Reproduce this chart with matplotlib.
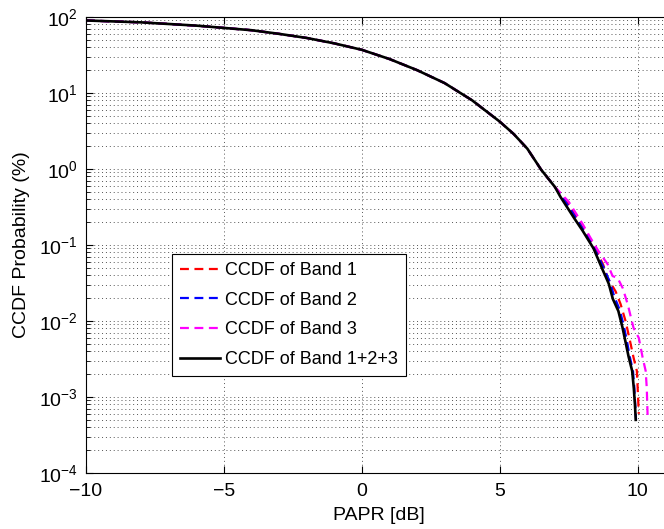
import matplotlib
matplotlib.use('Agg')
import matplotlib.pyplot as plt
from matplotlib.ticker import LogLocator, NullFormatter

plt.rcParams['font.family'] = ['Liberation Sans', 'DejaVu Sans']
plt.rcParams['font.size'] = 14
plt.rcParams['mathtext.fontset'] = 'custom'
plt.rcParams['mathtext.rm'] = 'Liberation Sans'

# PAPR [dB] / CCDF [%]
papr_body = [-10, -8, -6, -4, -3, -2, -1, 0, 1, 2, 3, 4, 5, 5.5, 6, 6.5, 7]
ccdf_body = [90, 85, 77, 67, 60, 53, 45, 37, 28, 20, 13.5, 8.0, 4.2, 2.9, 1.85, 0.98, 0.58]

papr_b123 = [7.2, 7.7, 8.0, 8.4, 8.7, 8.95, 9.1, 9.3, 9.45, 9.55, 9.67, 9.8, 9.86, 9.9, 9.93]
ccdf_b123 = [0.43, 0.225, 0.155, 0.09, 0.05, 0.031, 0.0195, 0.0135, 0.0082, 0.0055,
             0.0034, 0.0022, 0.0013, 0.0008, 0.0005]

papr_b2 = [7.5, 8.0, 8.4, 8.75, 9.0, 9.15, 9.35, 9.5, 9.6, 9.72, 9.83, 9.88, 9.91, 9.94]
ccdf_b2 = [0.32, 0.165, 0.095, 0.052, 0.032, 0.021, 0.014, 0.0085, 0.0057, 0.0033,
           0.0022, 0.0013, 0.0008, 0.0005]

papr_b1 = [7.5, 8.0, 8.4, 8.75, 8.91, 9.2, 9.38, 9.56, 9.72, 9.85, 9.97, 10.0, 10.04]
ccdf_b1 = [0.34, 0.17, 0.1, 0.055, 0.037, 0.0245, 0.0167, 0.010, 0.0055, 0.0033,
           0.0022, 0.0013, 0.0006]

papr_b3 = [7.5, 8.0, 8.29, 8.58, 8.91, 9.09, 9.27, 9.46, 9.64, 9.85, 10.04, 10.18,
           10.29, 10.33, 10.36]
ccdf_b3 = [0.37, 0.19, 0.124, 0.083, 0.056, 0.039, 0.037, 0.027, 0.0165, 0.0081,
           0.006, 0.0033, 0.0022, 0.0013, 0.00056]

fig = plt.figure(figsize=(6.64, 5.29), dpi=100)
ax = fig.add_axes([86 / 664, 1 - 473 / 529, 0.8807, (473 - 17) / 529])

dash = (0, (4, 2.5))
ax.plot(papr_body + papr_b1, ccdf_body + ccdf_b1, color='red', lw=1.6, ls=dash,
        label='CCDF of Band 1')
ax.plot(papr_body + papr_b2, ccdf_body + ccdf_b2, color='blue', lw=1.6, ls=dash,
        label='CCDF of Band 2')
ax.plot(papr_body + papr_b3, ccdf_body + ccdf_b3, color='magenta', lw=1.6, ls=dash,
        label='CCDF of Band 3')
ax.plot(papr_body + papr_b123, ccdf_body + ccdf_b123, color='black', lw=1.9,
        label='CCDF of Band 1+2+3')

ax.set_yscale('log')
ax.set_xlim(-10, 11.2)
ax.set_ylim(1e-4, 1e2)
ax.set_xticks([-10, -5, 0, 5, 10])
ax.set_xticklabels(['\u221210', '\u22125', '0', '5', '10'])
ax.yaxis.set_major_locator(LogLocator(base=10, numticks=10))
ax.yaxis.set_minor_locator(LogLocator(base=10, subs=range(2, 10), numticks=20))
ax.yaxis.set_minor_formatter(NullFormatter())

ax.tick_params(which='both', direction='in', top=True, right=True, labelsize=14)
ax.tick_params(which='major', length=5)
ax.tick_params(which='minor', length=3)
ax.tick_params(axis='x', pad=7)
ax.tick_params(axis='y', pad=6)

ax.grid(True, which='major', axis='both', ls=(0, (1, 3)), color='#555555', lw=0.7)
ax.grid(True, which='minor', axis='y', ls=(0, (1, 3)), color='#555555', lw=0.7)

for s in ax.spines.values():
    s.set_linewidth(0.8)

ax.set_xlabel('PAPR [dB]', fontsize=14, labelpad=5)
ax.set_ylabel('CCDF Probability (%)', fontsize=14, labelpad=6)

leg = ax.legend(loc='lower left', bbox_to_anchor=(172 / 664, 1 - 376 / 529),
                bbox_transform=fig.transFigure, borderaxespad=0, fancybox=False,
                framealpha=1, edgecolor='black', handlelength=2.2,
                handletextpad=0.3, labelspacing=0.7, borderpad=0.45, fontsize=13)
leg.get_frame().set_linewidth(0.8)

fig.savefig('out.png', dpi=100)
